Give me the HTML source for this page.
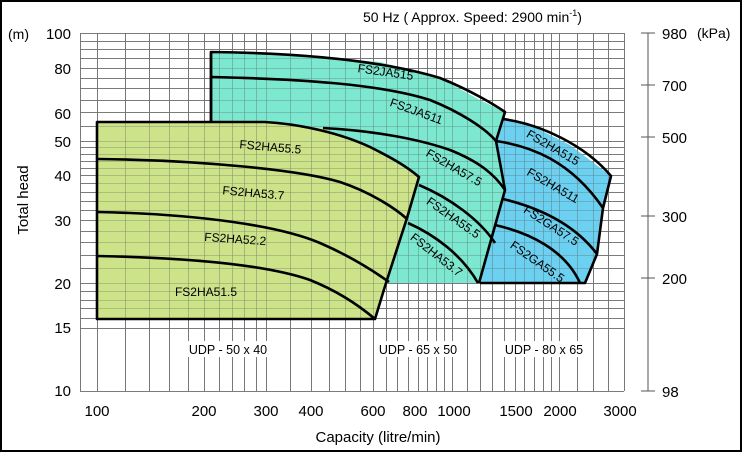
<!DOCTYPE html>
<html><head><meta charset="utf-8"><style>
html,body{margin:0;padding:0;background:#fff}
svg{display:block;font-family:"Liberation Sans",sans-serif}
</style></head><body>
<svg id="s" width="742" height="452" viewBox="0 0 742 452" xmlns="http://www.w3.org/2000/svg">
<rect x="1" y="1" width="740" height="450" fill="#fff" stroke="#000" stroke-width="2"/>
<g id="grid" stroke="#8a8a8a" stroke-width="1"></g>
<polygon fill="#7de8d0" stroke="none" points="211,122 211,52 300,55 380,62 440,78 480,100 505,112 496,141 505,190 479,283 211,283"/>
<polygon fill="#6cd0f0" stroke="none" points="503,119 530,125 570,145 611,176 603,208 597,254 585,283 480,283 505,190 496,141"/>
<polygon fill="#cde389" stroke="none" points="97,122 265,122 322,128 370,147 419,177 407,218 386,283 375,319 97,319"/>
<g id="grid2" stroke="#555" stroke-width="0.6" opacity="0.55"></g>
<g fill="none" stroke="#000" stroke-width="2.6" stroke-linejoin="round">
<path d="M211,122 L211,52 C300,53 380,60 440,78 C470,90 495,105 505,112 L496,141 L505,190 L479,283"/>
<path d="M503,119 C540,124 585,145 611,176 L603,208 L597,254 L585,283 L480,283"/>
<path d="M97,122 L265,122 C300,124 340,133 370,147 C390,157 405,165 419,177 L407,218 L386,283 L375,319 L97,319 Z"/>
<path d="M211,77 C300,79 380,84 430,100 C460,112 485,128 496,141 C530,146 570,160 603,208"/>
<path d="M323,128 C360,130 410,136 450,150 C480,162 495,175 505,190"/>
<path d="M503,199 C540,208 575,225 597,254"/>
<path d="M495,225 C530,233 565,250 580,283"/>
<path d="M97,159 C200,160 300,170 340,182 C370,192 395,208 407,219"/>
<path d="M419,185 C450,198 480,220 495,243"/>
<path d="M408,223 C435,235 462,255 478,283"/>
<path d="M97,212 C200,214 280,226 320,243 C350,256 375,272 389,282"/>
<path d="M97,256 C200,258 270,266 310,280 C340,292 362,308 375,319"/>
<path d="M211,52 L211,122"/>
</g>
<g font-size="12" fill="#000">
<text transform="translate(385,76) rotate(8)" text-anchor="middle">FS2JA515</text>
<text transform="translate(415,115) rotate(20)" text-anchor="middle">FS2JA511</text>
<text transform="translate(270,151) rotate(5)" text-anchor="middle">FS2HA55.5</text>
<text transform="translate(253,197) rotate(5)" text-anchor="middle">FS2HA53.7</text>
<text transform="translate(235,243) rotate(4)" text-anchor="middle">FS2HA52.2</text>
<text x="206" y="296" text-anchor="middle">FS2HA51.5</text>
<text transform="translate(452,171) rotate(30)" text-anchor="middle">FS2HA57.5</text>
<text transform="translate(451,221) rotate(35)" text-anchor="middle">FS2HA55.5</text>
<text transform="translate(434,258) rotate(38)" text-anchor="middle">FS2HA53.7</text>
<text transform="translate(551,151) rotate(30)" text-anchor="middle">FS2HA515</text>
<text transform="translate(551,189) rotate(30)" text-anchor="middle">FS2HA511</text>
<text transform="translate(549,229) rotate(33)" text-anchor="middle">FS2GA57.5</text>
<text transform="translate(535,265) rotate(35)" text-anchor="middle">FS2GA55.5</text>
</g>
<g font-size="12.5" fill="#000" text-anchor="middle">
<rect x="186" y="341" width="84" height="16" fill="#fff"/>
<rect x="376" y="341" width="84" height="16" fill="#fff"/>
<rect x="502" y="341" width="84" height="16" fill="#fff"/>
<text x="228" y="354">UDP - 50 x 40</text>
<text x="418" y="354">UDP - 65 x 50</text>
<text x="544" y="354">UDP - 80 x 65</text>
</g>
<g font-size="15" fill="#000" text-anchor="end">
<text x="71" y="39">100</text><text x="71" y="74">80</text><text x="71" y="119">60</text>
<text x="71" y="147">50</text><text x="71" y="181">40</text><text x="71" y="226">30</text>
<text x="71" y="289">20</text><text x="71" y="333">15</text><text x="71" y="396">10</text>
</g>
<text x="8" y="39" font-size="14">(m)</text>
<text transform="translate(28,200) rotate(-90)" text-anchor="middle" font-size="15">Total head</text>
<g font-size="15" text-anchor="middle">
<text x="97" y="416">100</text><text x="204" y="416">200</text><text x="266" y="416">300</text>
<text x="311" y="416">400</text><text x="373" y="416">600</text><text x="415" y="416">800</text>
<text x="454" y="416">1000</text><text x="516" y="416">1500</text><text x="560" y="416">2000</text>
<text x="620" y="416">3000</text>
</g>
<text x="378" y="442" text-anchor="middle" font-size="15">Capacity  (litre/min)</text>
<text x="363" y="22" font-size="14">50 Hz  ( Approx. Speed: 2900 min<tspan font-size="9" dy="-6">-1</tspan><tspan dy="6">)</tspan></text>
<g stroke="#555" stroke-width="1">
<line x1="648" y1="33" x2="648" y2="391"/>
<line x1="641" y1="33" x2="655" y2="33"/><line x1="641" y1="85" x2="655" y2="85"/>
<line x1="641" y1="137" x2="655" y2="137"/><line x1="641" y1="216" x2="655" y2="216"/>
<line x1="641" y1="278" x2="655" y2="278"/><line x1="641" y1="391" x2="655" y2="391"/>
</g>
<g font-size="15">
<text x="662" y="39">980</text><text x="697" y="38" font-size="14">(kPa)</text>
<text x="662" y="91">700</text><text x="662" y="143">500</text><text x="662" y="222">300</text>
<text x="662" y="284">200</text><text x="662" y="397">98</text>
</g>
</svg>
<script>
(function(){
var ns="http://www.w3.org/2000/svg";
function X(q){return 97+355*Math.log10(q/100);}
function Y(h){return 33+358*(2-Math.log10(h));}
var xs=[];for(var q=100;q<300;q+=20)xs.push(q);for(q=300;q<1000;q+=50)xs.push(q);for(q=1000;q<=2000;q+=100)xs.push(q);xs.push(2250,2500,2750);
var ys=[10];for(var h=15;h<20;h++)ys.push(h);for(h=20;h<50;h+=2)ys.push(h);for(h=50;h<=100;h+=5)ys.push(h);
["grid","grid2"].forEach(function(id){
var g=document.getElementById(id);
xs.forEach(function(q){var l=document.createElementNS(ns,"line");var x=Math.round(X(q))+0.5;l.setAttribute("x1",x);l.setAttribute("x2",x);l.setAttribute("y1",33);l.setAttribute("y2",391);g.appendChild(l);});
ys.forEach(function(h){var l=document.createElementNS(ns,"line");var y=Math.round(Y(h))+0.5;l.setAttribute("x1",80);l.setAttribute("x2",624);l.setAttribute("y1",y);l.setAttribute("y2",y);g.appendChild(l);});
var l=document.createElementNS(ns,"line");l.setAttribute("x1",80.5);l.setAttribute("x2",80.5);l.setAttribute("y1",33);l.setAttribute("y2",391);g.appendChild(l);
l=document.createElementNS(ns,"line");l.setAttribute("x1",624.5);l.setAttribute("x2",624.5);l.setAttribute("y1",33);l.setAttribute("y2",391);g.appendChild(l);
});
})();
</script>
</body></html>
